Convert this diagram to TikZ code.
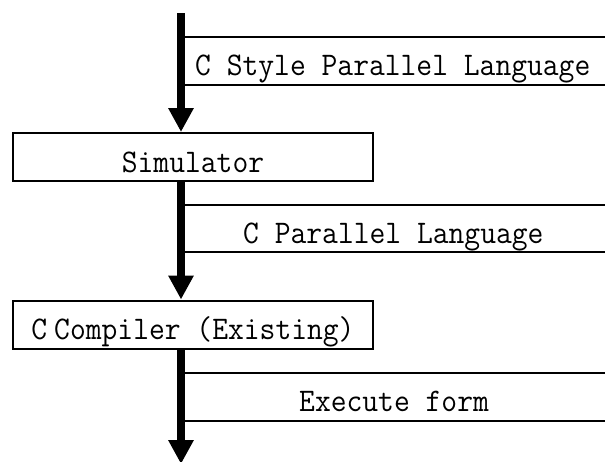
\documentclass[tikz,border=0pt]{standalone}
\usepackage{fontspec}
\usetikzlibrary{arrows.meta}
\newfontfamily\flowfont[FakeStretch=0.93]{Latin Modern Mono}

\tikzset{
  flow/.style={line width=8pt, -{Triangle[width=24pt,length=24pt]}},
  stage/.style={draw, line width=2pt, inner sep=0pt, minimum width=360pt,
                text height=39pt, text depth=9pt},
  strip/.style={line width=2pt},
  lab/.style={inner sep=0pt, anchor=base west},
}

\begin{document}
\begin{tikzpicture}[x=1pt, y=-1pt, font=\flowfont\fontsize{33}{33}\selectfont]
\useasboundingbox (0,0) rectangle (605,461);

% right edge and the ends of the main data flow
\coordinate (right) at (605,0);
\coordinate (top) at (181,13);
\coordinate (bot) at (181,464);

% processing stages
\node[stage] (sim)  at (193,157) {Simulator};
\node[stage] (comp) at (193,324.5) {C\kern7ptCompiler (Existing)};

% data passed between the stages
\draw[flow] (top) -- (top |- sim.north);
\draw[flow] (sim.south -| top) -- (comp.north -| top);
\draw[flow] (comp.south -| top) -- (bot);

% labels of the data, each between two rules
\coordinate (s1a) at (185,37);  \coordinate (s1b) at (185,85);
\coordinate (s2a) at (185,205); \coordinate (s2b) at (185,252);
\coordinate (s3a) at (185,373); \coordinate (s3b) at (185,421);
\foreach \c in {s1a,s1b,s2a,s2b,s3a,s3b}
  \draw[strip] (\c) -- (\c -| right);

\node[lab] (d1) at (195,75)  {C Style Parallel Language};
\node[lab] (d2) at (243,243) {C Parallel Language};
\node[lab] (d3) at (299,411) {Execute form};
\end{tikzpicture}
\end{document}
